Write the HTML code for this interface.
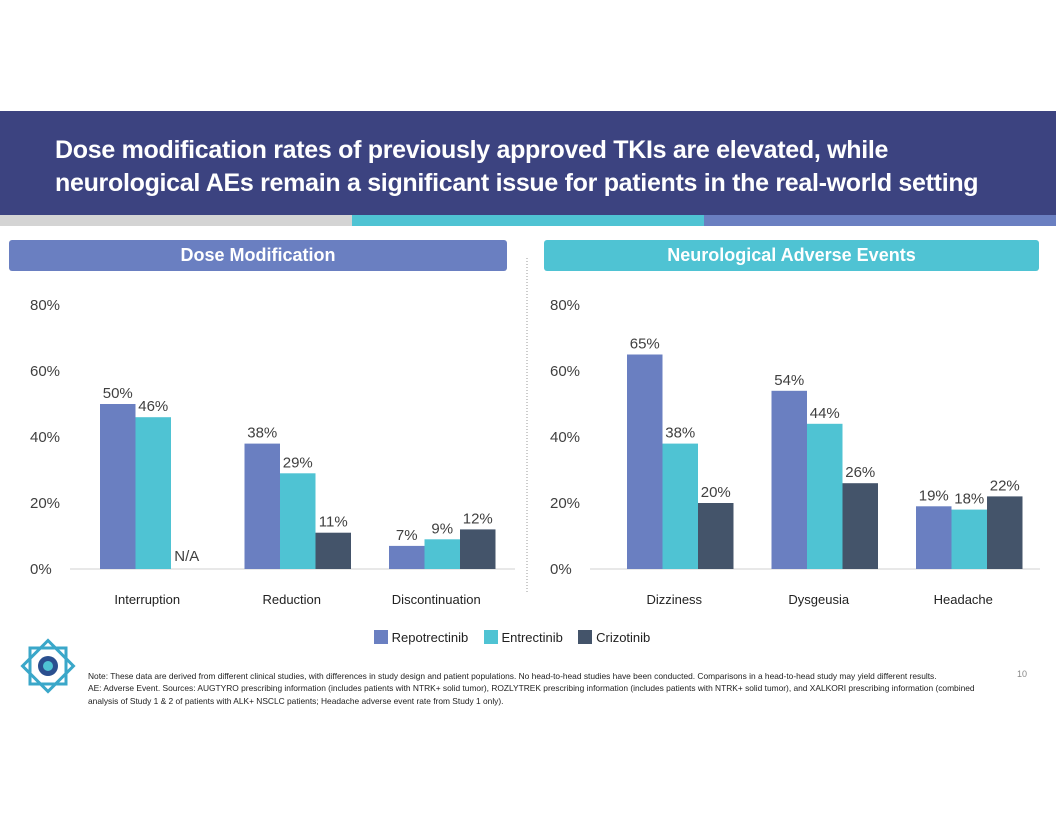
<!DOCTYPE html>
<html><head><meta charset="utf-8"><style>
body{margin:0;width:1056px;height:816px;background:#fff;font-family:"Liberation Sans",sans-serif;overflow:hidden;position:relative}
.abs{position:absolute}
</style></head><body>
<div class="abs" style="left:0;top:111px;width:1056px;height:104px;background:#3c4380"></div>
<div class="abs" style="left:55px;top:134px;color:#fff;font-size:25px;font-weight:bold;line-height:33px;letter-spacing:-0.3px">Dose modification rates of previously approved TKIs are elevated, while<br>neurological AEs remain a significant issue for patients in the real-world setting</div>
<div class="abs" style="left:0;top:215px;width:352px;height:11px;background:#d4d4d4"></div>
<div class="abs" style="left:352px;top:215px;width:352px;height:11px;background:#4fc3d3"></div>
<div class="abs" style="left:704px;top:215px;width:352px;height:11px;background:#6a7fc1"></div>
<div class="abs" style="left:9px;top:240px;width:498px;height:31px;background:#6a7fc1;border-radius:3px;color:#fff;font-weight:bold;font-size:18px;line-height:31px;text-align:center">Dose Modification</div>
<div class="abs" style="left:544px;top:240px;width:495px;height:31px;background:#4fc3d3;border-radius:3px;color:#fff;font-weight:bold;font-size:18px;line-height:31px;text-align:center">Neurological Adverse Events</div>
<svg class="abs" style="left:0;top:0" width="1056" height="816" id="chart">
<line x1="527" y1="258" x2="527" y2="592" stroke="#999" stroke-dasharray="1,2"/>
</svg>
<div class="abs" style="left:374px;top:630px;font-size:13px;color:#222;line-height:16px">
<span style="display:inline-block;width:14px;height:14px;background:#6a7fc1;vertical-align:-2px"></span> Repotrectinib
<span style="display:inline-block;width:14px;height:14px;background:#4fc3d3;vertical-align:-2px;margin-left:12px"></span> Entrectinib
<span style="display:inline-block;width:14px;height:14px;background:#44546a;vertical-align:-2px;margin-left:12px"></span> Crizotinib</div>
<svg class="abs" style="left:18px;top:636px" width="60" height="60" viewBox="0 0 60 60">
<g fill="none" stroke="#3aa7c9" stroke-width="3"><rect x="12" y="12" width="36" height="36"/><rect x="12" y="12" width="36" height="36" transform="rotate(45 30 30)"/></g>
<circle cx="30" cy="30" r="10" fill="#2a4f8f"/><circle cx="30" cy="30" r="5" fill="#4fc3d3"/></svg>
<div class="abs" style="left:88px;top:670px;width:900px;font-size:8.4px;line-height:12.3px;color:#222">Note: These data are derived from different clinical studies, with differences in study design and patient populations. No head-to-head studies have been conducted. Comparisons in a head-to-head study may yield different results.<br>AE: Adverse Event. Sources: AUGTYRO prescribing information (includes patients with NTRK+ solid tumor), ROZLYTREK prescribing information (includes patients with NTRK+ solid tumor), and XALKORI prescribing information (combined analysis of Study 1 &amp; 2 of patients with ALK+ NSCLC patients; Headache adverse event rate from Study 1 only).</div>
<div class="abs" style="left:1017px;top:669px;font-size:9px;color:#888">10</div>
<script>
const ticks=[0,20,40,60,80];
const seriesNames=['Repotrectinib','Entrectinib','Crizotinib'];
const colors=['#6a7fc1','#4fc3d3','#44546a'];
const leftCats=['Interruption','Reduction','Discontinuation'];
const leftRep=[50,38,7];
const leftEnt=[46,29,9];
const leftCri=[null,11,12];
const rightCats=['Dizziness','Dysgeusia','Headache'];
const rightRep=[65,54,19];
const rightEnt=[38,44,18];
const rightCri=[20,26,22];
const svg=document.getElementById('chart');
const NS='http://www.w3.org/2000/svg';
const y=v=>569-v*3.3;
function mk(tag,attrs,txt){const e=document.createElementNS(NS,tag);for(const k in attrs)e.setAttribute(k,attrs[k]);if(txt!=null)e.textContent=txt;svg.appendChild(e);return e;}
function panel(cats,series,tickX,axL,axR,start,name){
  ticks.forEach(t=>{const e=mk('text',{x:tickX,y:y(t)+5,'font-size':15,fill:'#404040'},t+'%');
    
    });
  const ax=mk('line',{x1:axL,x2:axR,y1:569,y2:569,stroke:'#d0d0d0'});
  
  
  const bw=35.5,band=144.5;
  cats.forEach((c,i)=>{
    const g0=start+i*band;
    const lb=mk('text',{x:g0+bw*1.5-6,y:604,'font-size':13,fill:'#222','text-anchor':'middle'},c);
    
    
    series.forEach((s,j)=>{
      const v=s[i];const x=g0+j*bw;
      if(v==null){const na=mk('text',{x:x+bw/2-2,y:561,'font-size':15,fill:'#404040','text-anchor':'middle'},'N/A');
        
        return;}
      const r=mk('rect',{x:x,y:y(v),width:bw,height:v*3.3,fill:colors[j]});
      
      
      const t=mk('text',{x:x+bw/2,y:y(v)-6,'font-size':15,fill:'#404040','text-anchor':'middle'},v+'%');
      
      
    });
  });
}
panel(leftCats,[leftRep,leftEnt,leftCri],30,70,515,100,'dose');
panel(rightCats,[rightRep,rightEnt,rightCri],550,590,1040,627,'neuro');
</script>
</body></html>
